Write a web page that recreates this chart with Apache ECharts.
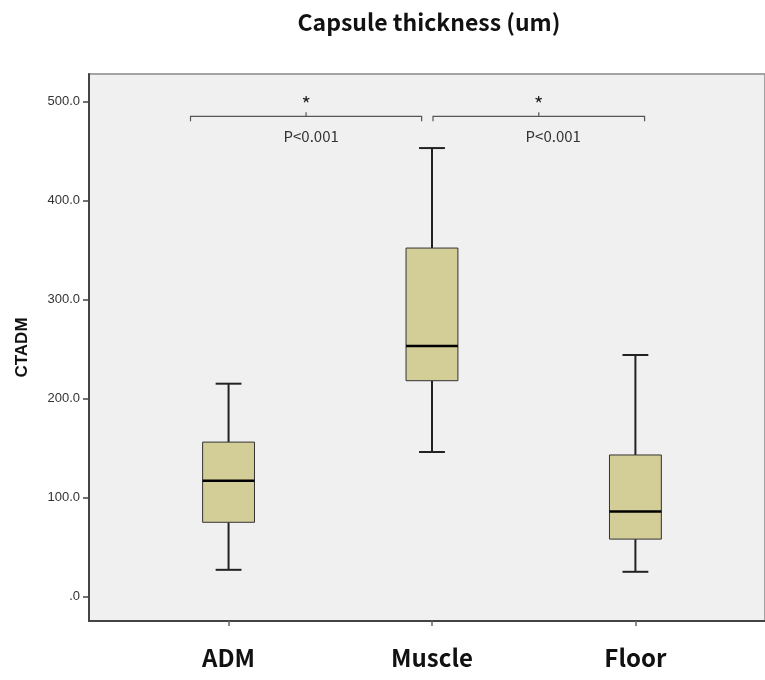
<!DOCTYPE html>
<html>
<head>
<meta charset="utf-8">
<script src="https://cdn.jsdelivr.net/npm/echarts@6/dist/echarts.min.js"></script>
<style>
  html, body { margin: 0; padding: 0; background: #fff; }
  #main { width: 765px; height: 680px; }
</style>
</head>
<body>
<div id="main"></div>
<script>
// 分类与箱线数据
const categories = ['ADM', 'Muscle', 'Floor'];
const whiskerLow = [27, 146, 25];
const q1 = [75, 218, 58];
const median = [117, 253, 86];
const q3 = [156, 352, 143];
const whiskerHigh = [215, 453, 244];
const yTicks = [0, 100, 200, 300, 400, 500];

// 显著性标注: 起点, 终点, 高度, 文字位置, 文字
const bracketFrom = [0.813, 2.005];
const bracketTo = [1.949, 3.045];
const bracketY = [485, 485];
const bracketTextX = [1.406, 2.596];
const bracketText = ['P<0.001', 'P<0.001'];

const myChart = echarts.init(document.getElementById('main'));

const boxData = categories.map((c, i) => [i + 1, whiskerLow[i], q1[i], median[i], q3[i], whiskerHigh[i]]);
const bracketData = bracketFrom.map((x, i) => [x, bracketTo[i], bracketY[i], bracketTextX[i]]);

const fill = '#d3cd98';
const dark = '#222';

const option = {
    animation: false,
    backgroundColor: '#fff',
    title: {
        text: 'Capsule thickness (um)',
        left: 424,
        top: 6,
        textAlign: 'center',
        textStyle: {fontFamily: 'Noto Sans CJK KR', fontWeight: 'bold', fontSize: 23, color: '#111'}
    },
    grid: {
        left: 89, right: -2, top: 74, bottom: 59,
        show: true,
        backgroundColor: '#f0f0f0',
        borderColor: '#888',
        borderWidth: 1.5
    },
    xAxis: {
        type: 'value',
        min: 0.314,
        max: 3.637,
        splitLine: {show: false},
        axisLine: {show: true, onZero: false, lineStyle: {color: '#444', width: 2}},
        axisTick: {show: true, customValues: [1, 2, 3], length: 5, lineStyle: {color: '#666', width: 1.5}},
        axisLabel: {
            customValues: [1, 2, 3],
            formatter: v => categories[Math.round(v) - 1] || '',
            margin: 25,
            fontFamily: 'Noto Sans CJK KR',
            fontWeight: 'bold',
            fontSize: 24,
            color: '#111'
        }
    },
    yAxis: {
        type: 'value',
        min: -24.7,
        max: 527.8,
        name: 'CTADM',
        nameLocation: 'middle',
        nameGap: 58,
        nameTextStyle: {fontFamily: 'Liberation Sans', fontWeight: 'bold', fontSize: 17, color: '#111'},
        splitLine: {show: false},
        axisLine: {show: true, onZero: false, lineStyle: {color: '#444', width: 2}},
        axisTick: {show: true, customValues: yTicks, length: 6, lineStyle: {color: '#444', width: 1.5}},
        axisLabel: {
            customValues: yTicks,
            formatter: v => v === 0 ? '.0' : v.toFixed(1),
            margin: 9,
            fontFamily: 'Liberation Sans',
            fontSize: 13,
            color: '#333'
        }
    },
    series: [
        {
            type: 'custom',
            data: boxData,
            encode: {x: 0, y: [1, 2, 3, 4, 5]},
            renderItem: (params, api) => {
                const x = api.value(0);
                const pLow = api.coord([x, api.value(1)]);
                const pQ1 = api.coord([x, api.value(2)]);
                const pMed = api.coord([x, api.value(3)]);
                const pQ3 = api.coord([x, api.value(4)]);
                const pHigh = api.coord([x, api.value(5)]);
                const boxW = api.size([0.255, 0])[0];
                const capW = api.size([0.127, 0])[0];
                const cx = pMed[0];
                return {
                    type: 'group',
                    children: [
                        {type: 'line', shape: {x1: cx, y1: pQ3[1], x2: cx, y2: pHigh[1]}, style: {stroke: dark, lineWidth: 2}},
                        {type: 'line', shape: {x1: cx, y1: pQ1[1], x2: cx, y2: pLow[1]}, style: {stroke: dark, lineWidth: 2}},
                        {type: 'line', shape: {x1: cx - capW / 2, y1: pHigh[1], x2: cx + capW / 2, y2: pHigh[1]}, style: {stroke: dark, lineWidth: 2}},
                        {type: 'line', shape: {x1: cx - capW / 2, y1: pLow[1], x2: cx + capW / 2, y2: pLow[1]}, style: {stroke: dark, lineWidth: 2}},
                        {type: 'rect', shape: {x: cx - boxW / 2, y: pQ3[1], width: boxW, height: pQ1[1] - pQ3[1]},
                            style: {fill: fill, stroke: '#333', lineWidth: 1}},
                        {type: 'line', shape: {x1: cx - boxW / 2, y1: pMed[1], x2: cx + boxW / 2, y2: pMed[1]}, style: {stroke: '#000', lineWidth: 2.5}}
                    ]
                };
            }
        },
        {
            type: 'custom',
            data: bracketData,
            encode: {x: [0, 1], y: 2},
            renderItem: (params, api) => {
                const a = api.coord([api.value(0), api.value(2)]);
                const b = api.coord([api.value(1), api.value(2)]);
                const t = api.coord([api.value(3), api.value(2)]);
                const mid = (a[0] + b[0]) / 2;
                const txt = bracketText[params.dataIndex];
                return {
                    type: 'group',
                    children: [
                        {type: 'polyline', shape: {points: [[a[0], a[1] + 5], [a[0], a[1]], [b[0], b[1]], [b[0], b[1] + 5]]},
                            style: {fill: null, stroke: '#555', lineWidth: 1.2}},
                        {type: 'line', shape: {x1: mid, y1: a[1], x2: mid, y2: a[1] - 4}, style: {stroke: '#555', lineWidth: 1.2}},
                        {type: 'text', x: mid, y: a[1] - 2, style: {text: '*', fontSize: 20, fontFamily: 'Noto Sans CJK KR',
                            fill: '#222', align: 'center', verticalAlign: 'bottom'}},
                        {type: 'text', x: t[0], y: a[1] + 20, style: {text: txt, fontSize: 15, fontFamily: 'Noto Sans CJK KR',
                            fill: '#333', align: 'center', verticalAlign: 'middle'}}
                    ]
                };
            }
        }
    ]
};

myChart.setOption(option);
</script>
</body>
</html>
